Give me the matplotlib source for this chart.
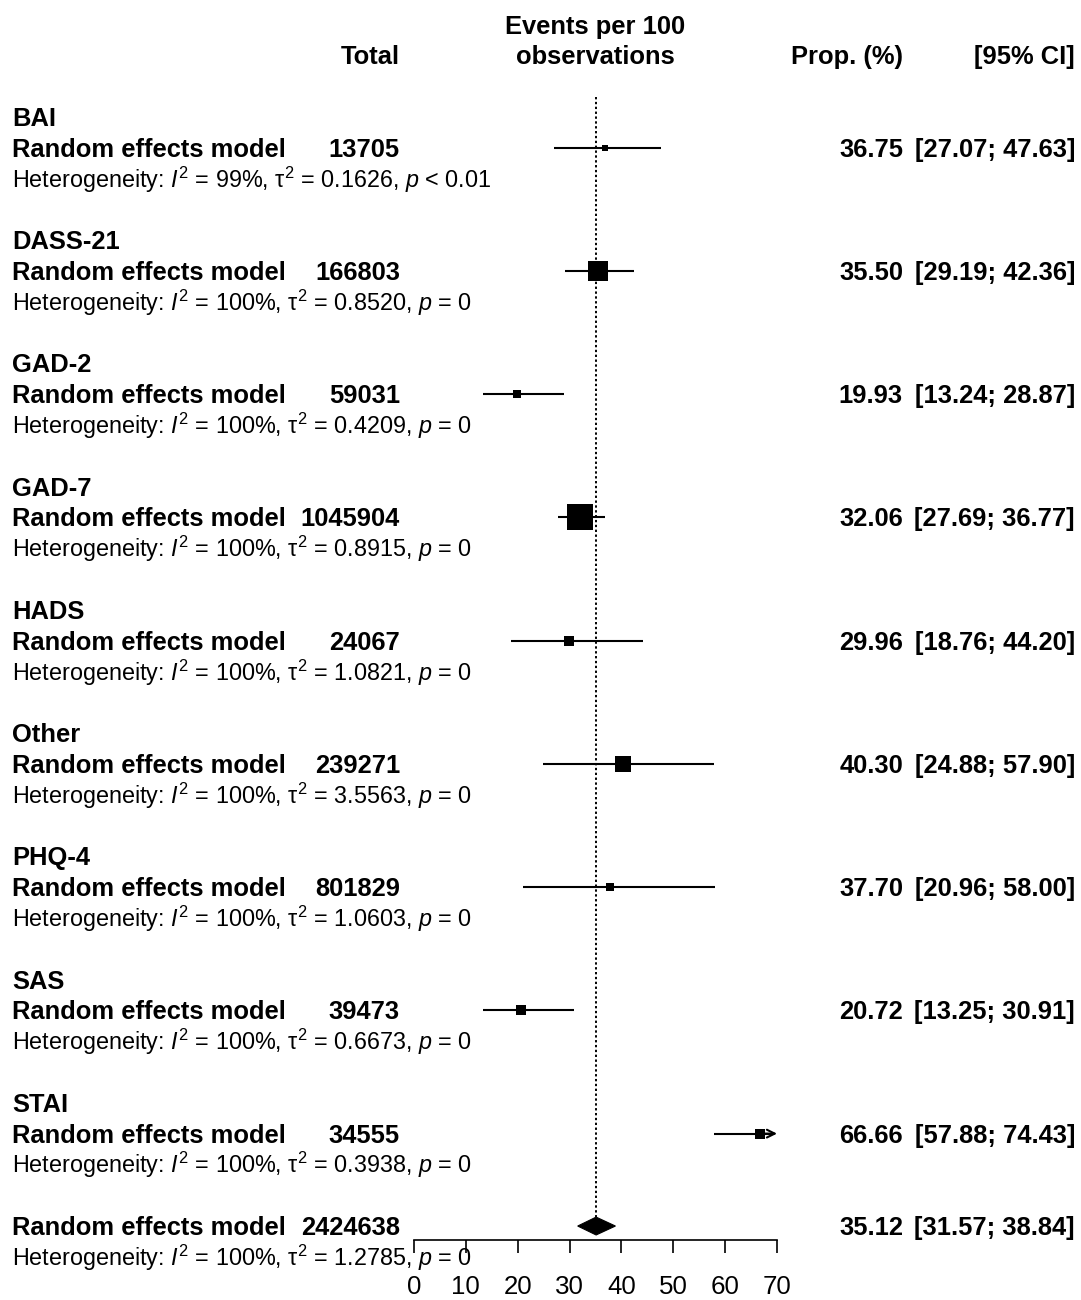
import matplotlib
matplotlib.use("Agg")
import matplotlib.pyplot as plt
from matplotlib.patches import Polygon
from matplotlib.transforms import blended_transform_factory

plt.rcParams['font.family'] = ['Liberation Sans', 'DejaVu Sans']
plt.rcParams['mathtext.fontset'] = 'custom'
plt.rcParams['mathtext.rm'] = 'Liberation Sans'
plt.rcParams['mathtext.it'] = 'Liberation Sans:italic'
plt.rcParams['mathtext.bf'] = 'Liberation Sans:bold'

# ---- subgroup results ----
groups = ['BAI', 'DASS-21', 'GAD-2', 'GAD-7', 'HADS', 'Other', 'PHQ-4', 'SAS', 'STAI']
totals = [13705, 166803, 59031, 1045904, 24067, 239271, 801829, 39473, 34555]
prop = [36.75, 35.50, 19.93, 32.06, 29.96, 40.30, 37.70, 20.72, 66.66]
ci_lo = [27.07, 29.19, 13.24, 27.69, 18.76, 24.88, 20.96, 13.25, 57.88]
ci_hi = [47.63, 42.36, 28.87, 36.77, 44.20, 57.90, 58.00, 30.91, 74.43]
i2 = ['99%', '100%', '100%', '100%', '100%', '100%', '100%', '100%', '100%']
tau2 = ['0.1626', '0.8520', '0.4209', '0.8915', '1.0821', '3.5563', '1.0603', '0.6673', '0.3938']
pval = ['< 0.01', '= 0', '= 0', '= 0', '= 0', '= 0', '= 0', '= 0', '= 0']
box_weight = [1.9, 21.6, 3.5, 39.4, 6.5, 13.8, 3.5, 4.4, 5.4]

# ---- overall result ----
overall_total = 2424638
overall_prop = 35.12
overall_lo = 31.57
overall_hi = 38.84
overall_i2 = '100%'
overall_tau2 = '1.2785'
overall_p = '= 0'

xticks = [0, 10, 20, 30, 40, 50, 60, 70]
xmax = 70

W, H = 1081, 1300
fig = plt.figure(figsize=(W / 100, H / 100), dpi=100)

# row grid: one text line per unit
y0, step = 24.6, 30.806
ax = fig.add_axes([414 / W, 0, 363 / W, 1])
ax.set_xlim(0, xmax)
ax.set_ylim((H - y0) / step, -y0 / step)
ax.patch.set_visible(False)
for s in ['top', 'left', 'right']:
    ax.spines[s].set_visible(False)
ax.set_yticks([])
ax.spines['bottom'].set_position(('data', 39.45))
ax.spines['bottom'].set_bounds(0, xmax)
ax.spines['bottom'].set_linewidth(1.2)
ax.set_xticks(xticks)
ax.set_xticklabels([str(t) for t in xticks])
ax.tick_params(axis='x', direction='out', length=9.4, width=1.2, pad=16, labelsize=18.6)

tr = blended_transform_factory(fig.transFigure, ax.transData)
FS = 18.4
FS_HET = 16.8
BASE = 0.29  # baseline offset from the row centre


def left(x, row, s, bold=True, size=FS):
    ax.text(x / W, row + BASE, s, transform=tr, ha='left', va='baseline',
            fontsize=size, fontweight='bold' if bold else 'normal')


def right(x, row, s, bold=True, size=FS):
    ax.text(x / W, row + BASE, s, transform=tr, ha='right', va='baseline',
            fontsize=size, fontweight='bold' if bold else 'normal')


def het(i2v, tv, pv):
    return (f"Heterogeneity: $I^2$ = {i2v}, \u03c4$^2$ = {tv}, $p$ {pv}")


# column headings
ax.text(35, 0 + BASE, 'Events per 100', ha='center', va='baseline', fontsize=FS, fontweight='bold')
ax.text(35, 1 + BASE, 'observations', ha='center', va='baseline', fontsize=FS, fontweight='bold')
right(400, 1, 'Total')
right(903, 1, 'Prop. (%)')
right(1075, 1, '[95% CI]')

# reference line at the pooled estimate
ax.vlines(overall_prop, 2.35, 39 - 0.29, colors='black', linewidth=1.4,
          linestyles=(0, (1.2, 1.3)), clip_on=False)

for k, g in enumerate(groups):
    hrow = 3 + 4 * k
    rrow = hrow + 1
    left(12, hrow, g)
    left(12, rrow, 'Random effects model')
    right(400, rrow, str(totals[k]))
    left(12, rrow + 1, het(i2[k], tau2[k], pval[k]), bold=False, size=FS_HET)
    right(903, rrow, f"{prop[k]:.2f}")
    right(1075, rrow, f"[{ci_lo[k]:.2f}; {ci_hi[k]:.2f}]")

    if ci_hi[k] > xmax:
        ax.plot([ci_lo[k], xmax - 1.0], [rrow, rrow], color='black', lw=1.5,
                solid_capstyle='butt', clip_on=False)
        ax.annotate('', xy=(xmax, rrow), xytext=(xmax - 2.5, rrow),
                    arrowprops=dict(arrowstyle='->', lw=1.5, color='black',
                                    mutation_scale=14, shrinkA=0, shrinkB=0),
                    annotation_clip=False)
    else:
        ax.plot([ci_lo[k], ci_hi[k]], [rrow, rrow], color='black', lw=1.5,
                solid_capstyle='butt', clip_on=False)
    side_px = 27 * (box_weight[k] / max(box_weight)) ** 0.5
    ax.plot([prop[k]], [rrow], marker='s', markersize=side_px * 0.72,
            color='black', markeredgewidth=0, linestyle='none', clip_on=False, zorder=3)

# overall pooled estimate
orow = 39
left(12, orow, 'Random effects model')
right(400, orow, str(overall_total))
left(12, orow + 1, het(overall_i2, overall_tau2, overall_p), bold=False, size=FS_HET)
right(903, orow, f"{overall_prop:.2f}")
right(1075, orow, f"[{overall_lo:.2f}; {overall_hi:.2f}]")
hh = 0.29
diamond = Polygon([(overall_lo, orow), (overall_prop, orow - hh),
                   (overall_hi, orow), (overall_prop, orow + hh)],
                  closed=True, facecolor='black', edgecolor='black', lw=0.8, clip_on=False)
ax.add_patch(diamond)

fig.savefig('out.png', dpi=100, facecolor='white')
